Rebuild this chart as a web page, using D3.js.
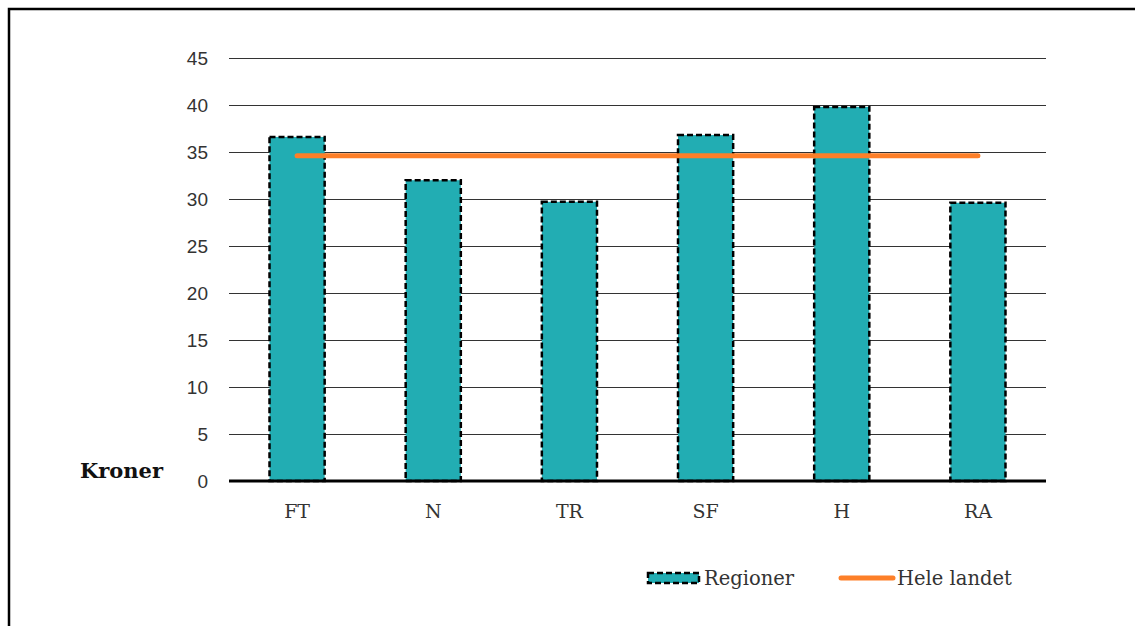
<!DOCTYPE html>
<html>
<head>
<meta charset="utf-8">
<script src="https://cdn.jsdelivr.net/npm/d3@7"></script>
<style>
  html, body { margin: 0; padding: 0; background: #fff; }
</style>
</head>
<body>
<div id="chart"></div>
<script>
  // Data
  const categories = ["FT", "N", "TR", "SF", "H", "RA"];
  const regionValues = [36.6, 32.0, 29.7, 36.8, 39.8, 29.6];
  const nationalValue = 34.6;
  const yTicks = [0, 5, 10, 15, 20, 25, 30, 35, 40, 45];
  const seriesNames = ["Regioner", "Hele landet"];

  const width = 1135;
  const height = 626;
  const margin = { top: 58, right: 89, bottom: 145, left: 229 };
  const chartWidth = width - margin.left - margin.right;
  const chartHeight = height - margin.top - margin.bottom;

  const barColor = "#22adb3";
  const lineColor = "#fd7f28";
  const serif = "'DejaVu Serif', serif";
  const sans = "'Liberation Sans', Arial, sans-serif";

  const svg = d3.select("#chart")
    .append("svg")
    .attr("width", width)
    .attr("height", height);

  // Outer frame (cut off on right and bottom)
  svg.append("rect")
    .attr("x", 9)
    .attr("y", 9)
    .attr("width", width + 20)
    .attr("height", height + 20)
    .attr("fill", "none")
    .attr("stroke", "#000")
    .attr("stroke-width", 2.5);

  const chart = svg.append("g")
    .attr("transform", `translate(${margin.left}, ${margin.top})`);

  const x = d3.scaleBand()
    .domain(categories)
    .range([0, chartWidth])
    .paddingInner(0.595)
    .paddingOuter(0.2975);

  const y = d3.scaleLinear()
    .domain([0, 45])
    .range([chartHeight, 0]);

  // Grid lines + y labels
  chart.append("g")
    .call(d3.axisLeft(y)
      .tickValues(yTicks)
      .tickSize(-chartWidth)
      .tickPadding(21))
    .call(g => g.select(".domain").remove())
    .call(g => g.selectAll(".tick line")
      .attr("stroke", "#333")
      .attr("stroke-width", 1))
    .call(g => g.selectAll(".tick text")
      .attr("font-family", sans)
      .attr("font-size", "19px")
      .attr("fill", "#333"));

  // Bars
  chart.selectAll(".bar")
    .data(regionValues)
    .enter()
    .append("rect")
    .attr("class", "bar")
    .attr("x", (d, i) => x(categories[i]))
    .attr("y", d => y(d))
    .attr("width", x.bandwidth())
    .attr("height", d => chartHeight - y(d))
    .attr("fill", barColor)
    .attr("stroke", "#000")
    .attr("stroke-width", 2.5)
    .attr("stroke-dasharray", "6,3");

  // Baseline
  chart.append("line")
    .attr("x1", 0)
    .attr("x2", chartWidth)
    .attr("y1", y(0))
    .attr("y2", y(0))
    .attr("stroke", "#000")
    .attr("stroke-width", 3);

  // Hele landet line
  const line = d3.line()
    .x(d => x(d) + x.bandwidth() / 2)
    .y(() => y(nationalValue));

  chart.append("path")
    .datum(categories)
    .attr("d", line)
    .attr("fill", "none")
    .attr("stroke", lineColor)
    .attr("stroke-width", 5)
    .attr("stroke-linecap", "round");

  // Category labels
  chart.selectAll(".cat")
    .data(categories)
    .enter()
    .append("text")
    .attr("class", "cat")
    .attr("x", d => x(d) + x.bandwidth() / 2)
    .attr("y", chartHeight + 37)
    .attr("text-anchor", "middle")
    .attr("font-family", serif)
    .attr("font-size", "19px")
    .attr("fill", "#333")
    .text(d => d);

  // Axis title
  svg.append("text")
    .attr("x", 80)
    .attr("y", 478)
    .attr("font-family", serif)
    .attr("font-weight", "bold")
    .attr("font-size", "21px")
    .attr("fill", "#111")
    .text("Kroner");

  // Legend
  const legend = svg.append("g");
  legend.append("rect")
    .attr("x", 648)
    .attr("y", 573)
    .attr("width", 51)
    .attr("height", 10)
    .attr("fill", barColor)
    .attr("stroke", "#000")
    .attr("stroke-width", 2.5)
    .attr("stroke-dasharray", "6,3");
  legend.append("text")
    .attr("x", 704)
    .attr("y", 585)
    .attr("font-family", serif)
    .attr("font-size", "19.5px")
    .attr("fill", "#333")
    .text(seriesNames[0]);
  legend.append("line")
    .attr("x1", 841)
    .attr("x2", 893)
    .attr("y1", 578)
    .attr("y2", 578)
    .attr("stroke", lineColor)
    .attr("stroke-width", 5)
    .attr("stroke-linecap", "round");
  legend.append("text")
    .attr("x", 897)
    .attr("y", 585)
    .attr("font-family", serif)
    .attr("font-size", "19.5px")
    .attr("fill", "#333")
    .text(seriesNames[1]);
</script>
</body>
</html>
